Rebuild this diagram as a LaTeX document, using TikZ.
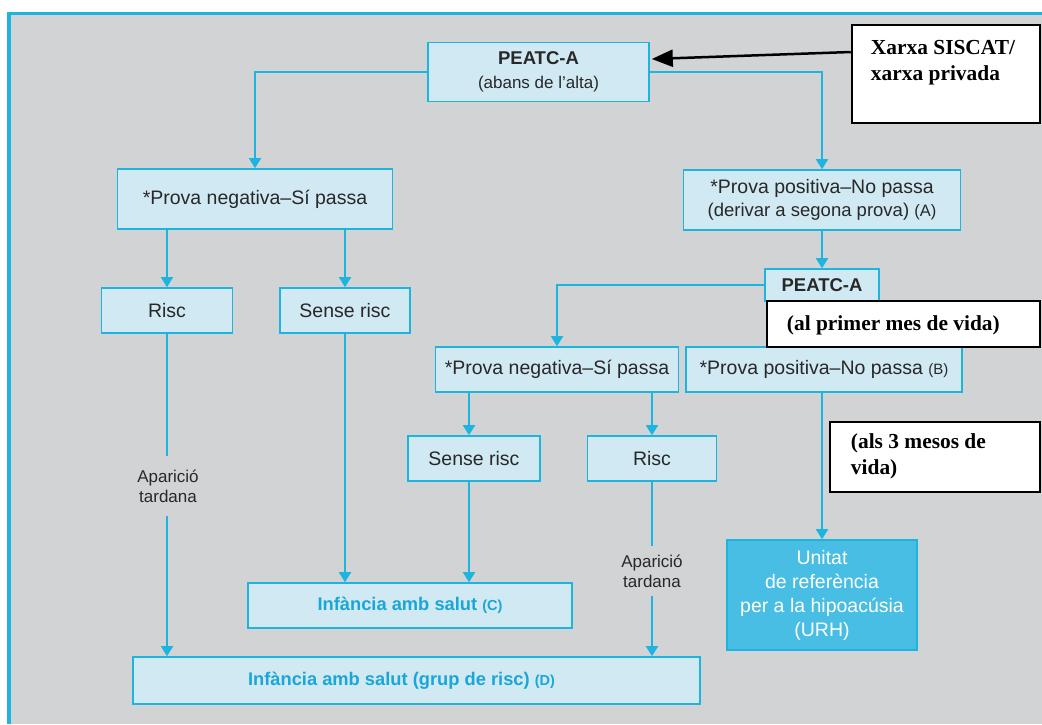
\documentclass[tikz,border=0pt]{standalone}
\usepackage{fontspec}
\setmainfont{Liberation Sans}
\newfontfamily\timesf{Liberation Serif}
\usetikzlibrary{arrows.meta,calc}
\definecolor{bggray}{RGB}{210,211,213}
\definecolor{cyanb}{RGB}{30,180,224}
\definecolor{lightb}{RGB}{208,233,243}
\definecolor{urhfill}{RGB}{72,190,228}
\definecolor{darktext}{RGB}{40,40,40}
\definecolor{cyantext}{RGB}{26,166,216}
\newcommand\myfA{\fontsize{19.5}{24}\selectfont}
\newcommand\myfB{\fontsize{17}{20}\selectfont}
\newcommand\myfC{\fontsize{15}{18}\selectfont}
\newcommand\myfT{\timesf\bfseries\fontsize{21.4}{26}\selectfont}
\begin{document}
\begin{tikzpicture}[x=1pt,y=-1pt,
  box/.style={draw=cyanb, line width=1.6pt, fill=lightb, inner sep=0pt, text=darktext, font=\myfA, align=center},
  urhbox/.style={box, fill=urhfill, text=white},
  infbox/.style={box, text=cyantext, font=\myfA\bfseries},
  wbox/.style={draw=black, line width=2.5pt, fill=white, inner sep=0pt},
  wtext/.style={inner sep=0pt, font=\myfT, align=left, text=black},
  aptext/.style={inner sep=9pt, font=\myfB, align=center, text=darktext},
  link/.style={draw=cyanb, line width=1.8pt},
  arr/.style={link, -{Triangle[length=10pt,width=12pt]}},
  blackarr/.style={draw=black, line width=2.5pt, -{Triangle[length=21pt,width=17pt]}}
]
\useasboundingbox (0,0) rectangle (1042,724);
\fill[white] (0,0) rectangle (1042,724);
\fill[bggray] (11,15) rectangle (1042,724);
\fill[cyanb] (7,12) rectangle (1042,15);
\fill[cyanb] (7,12) rectangle (11,724);

% boxes
\node[box, minimum width=221pt, minimum height=59pt] (p1) at (538.5,72)
  {{\fontsize{18.5}{21}\selectfont\bfseries PEATC-A}\\[0pt]{\myfB (abans de l’alta)}};
\node[box, minimum width=275pt, minimum height=60pt] (neg1) at (255,199) {*Prova negativa–Sí passa};
\node[box, minimum width=277pt, minimum height=60pt] (pos1) at (822,200)
  {*Prova positiva–No passa\\[-1pt]{\fontsize{18.5}{21}\selectfont (derivar a segona prova) {\fontsize{16.5}{20}\selectfont (A)}}};
\node[box, minimum width=131pt, minimum height=45pt] (risc1) at (167,310.5) {Risc};
\node[box, minimum width=130pt, minimum height=45pt] (sense1) at (345,310.5) {Sense risc};
\node[box, minimum width=114pt, minimum height=32pt] (p2) at (822,285)
  {\fontsize{18.5}{21}\selectfont\bfseries PEATC-A};
\node[box, minimum width=243pt, minimum height=45pt] (neg2) at (557,369.5) {*Prova negativa–Sí passa};
\node[box, minimum width=276pt, minimum height=45pt] (pos2) at (824,369.5)
  {*Prova positiva–No passa {\myfC (B)}};
\node[box, minimum width=132pt, minimum height=45pt] (sense2) at (474,458.5) {Sense risc};
\node[box, minimum width=129pt, minimum height=45pt] (risc2) at (652,458.5) {Risc};
\node[urhbox, minimum width=190pt, minimum height=110pt] (urh) at (822,595)
  {Unitat\\de referència\\per a la hipoacúsia\\(URH)};
\node[infbox, minimum width=324pt, minimum height=45pt] (infc) at (410,605.5)
  {\fontsize{18.3}{21}\selectfont Infància amb salut {\fontsize{14.5}{17}\selectfont (C)}};
\node[infbox, minimum width=567pt, minimum height=47pt] (infd) at (416.5,680.5)
  {\fontsize{18.3}{21}\selectfont Infància amb salut (grup de risc) {\fontsize{14.5}{17}\selectfont (D)}\hspace*{30pt}};
\node[aptext, inner ysep=13pt] (ap1) at (168,486) {Aparició\\tardana};
\node[aptext, inner ysep=8pt] (ap2) at (652,571) {Aparició\\tardana};

% connectors
\draw[arr] (p1.west) -| (neg1.north);
\draw[arr] (p1.east) -| (pos1.north);
\draw[arr] (neg1.south -| risc1.north) -- (risc1.north);
\draw[arr] (neg1.south -| sense1.north) -- (sense1.north);
\draw[arr] (pos1.south) -- (p2.north);
\draw[arr] (p2.west) -| (neg2.north);
\draw[arr] ([xshift=-5pt]sense2.north |- neg2.south) -- ([xshift=-5pt]sense2.north);
\draw[arr] (risc2.north |- neg2.south) -- (risc2.north);
\draw[arr] (urh.north |- pos2.south) -- (urh.north);
\draw[link] (risc1.south) -- (risc1.south |- ap1.north);
\draw[arr] (risc1.south |- ap1.south) -- (risc1.south |- infd.north);
\draw[arr] (sense1.south) -- (sense1.south |- infc.north);
\draw[arr] ([xshift=-5pt]sense2.south) -- ([xshift=-5pt]sense2.south |- infc.north);
\draw[link] (risc2.south) -- (risc2.south |- ap2.north);
\draw[arr] (risc2.south |- ap2.south) -- (risc2.south |- infd.north);

% white annotation boxes
\node[wbox, minimum width=188pt, minimum height=98pt] (xarxa) at (946,74) {};
\node[wtext, anchor=north west] (xarxat) at ($(xarxa.north west)+(20,16)$) {Xarxa SISCAT/\\xarxa privada};
\node[wbox, minimum width=273pt, minimum height=46pt] (mes1) at (903.5,324) {};
\node[wtext, anchor=west] (mes1t) at ($(mes1.west)+(21,1)$) {(al primer mes de vida)};
\node[wbox, minimum width=210pt, minimum height=70pt] (mes3) at (935,457) {};
\node[wtext, anchor=north west] (mes3t) at ($(mes3.north west)+(22,13)$) {(als 3 mesos de\\vida)};
\draw[blackarr] ([yshift=22pt]xarxa.west) -- ([xshift=2pt,yshift=13pt]p1.east);
\end{tikzpicture}
\end{document}
